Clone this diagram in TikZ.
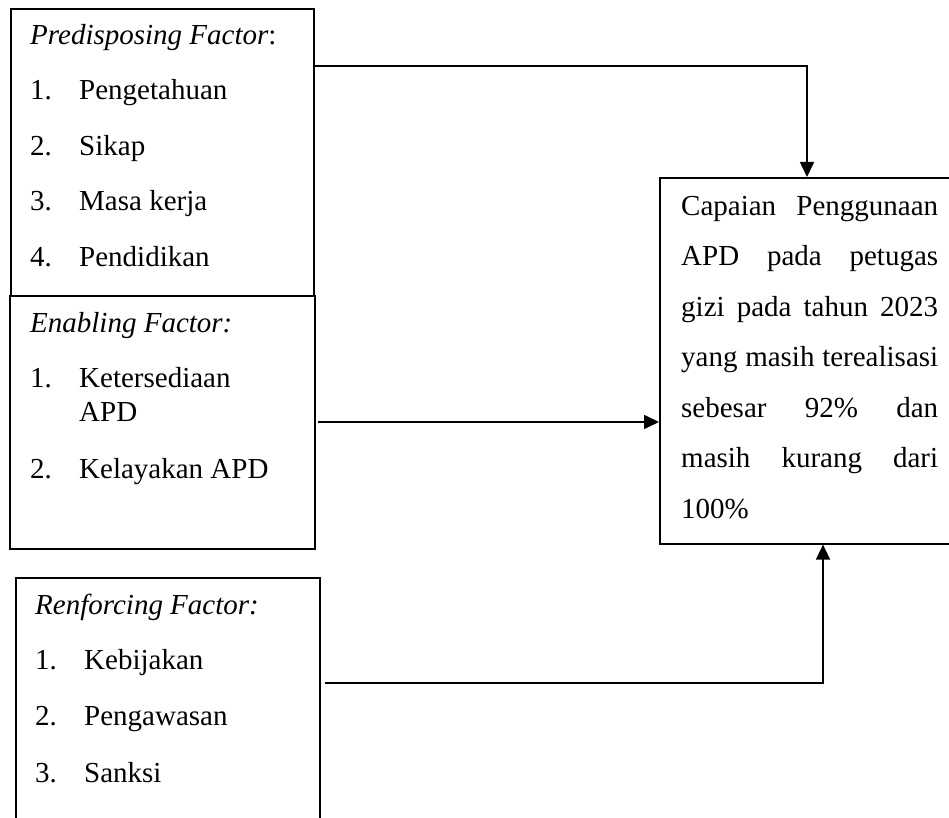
\documentclass[tikz,border=0pt]{standalone}
\usepackage{fontspec}
\setmainfont{Liberation Serif}
\usetikzlibrary{arrows.meta}
\begin{document}
\begin{tikzpicture}[x=1pt,y=-1pt,
  box/.style={draw,line width=1.6pt,inner sep=0pt,anchor=north west},
  conn/.style={line width=1.6pt},
  arr/.style={conn,-{Triangle[length=15pt,width=14pt]}},
  txt/.style={anchor=base west,inner sep=0pt,font=\fontsize{29}{55}\selectfont}]
\useasboundingbox (0,0) rectangle (949,818);
\clip (0,0) rectangle (949,818);
% boxes
\node[box,minimum width=303pt,minimum height=287pt] (b1) at (10,8) {};
\node[box,minimum width=305pt,minimum height=253pt] (b2) at (9,295) {};
\node[box,minimum width=304pt,minimum height=260pt] (b3) at (15,577) {};
\node[box,minimum width=310pt,minimum height=366pt] (rb) at (659,177) {};
% box 1 text
\node[txt] (t1) at (30,45) {\textit{Predisposing Factor}:};
\node[txt] (t1n1) at (30,100) {1.};
\node[txt] (t1i1) at (79,100) {Pengetahuan};
\node[txt] (t1n2) at (30,156) {2.};
\node[txt] (t1i2) at (79,156) {Sikap};
\node[txt] (t1n3) at (30,211) {3.};
\node[txt] (t1i3) at (79,211) {Masa kerja};
\node[txt] (t1n4) at (30,266) {4.};
\node[txt] (t1i4) at (79,266) {Pendidikan};
% box 2 text
\node[txt] (t2) at (30,332) {\textit{Enabling Factor:}};
\node[txt] (t2n1) at (30,387) {1.};
\node[txt] (t2i1) at (79,387) {Ketersediaan};
\node[txt] (t2i1b) at (79,421) {APD};
\node[txt] (t2n2) at (30,478) {2.};
\node[txt] (t2i2) at (79,478) {Kelayakan APD};
% box 3 text
\node[txt] (t3) at (35,614) {\textit{Renforcing Factor:}};
\node[txt] (t3n1) at (35,669) {1.};
\node[txt] (t3i1) at (84,669) {Kebijakan};
\node[txt] (t3n2) at (35,725) {2.};
\node[txt] (t3i2) at (84,725) {Pengawasan};
\node[txt] (t3n3) at (35,782) {3.};
\node[txt] (t3i3) at (84,782) {Sanksi};
% right box text
\node[txt] (r1) at (681,215) {\makebox[257pt][s]{Capaian Penggunaan}};
\node[txt] (r2) at (681,265.5) {\makebox[257pt][s]{APD pada petugas}};
\node[txt] (r3) at (681,316) {\makebox[257pt][s]{gizi pada tahun 2023}};
\node[txt] (r4) at (681,366.5) {\makebox[257pt][s]{yang masih terealisasi}};
\node[txt] (r5) at (681,417) {\makebox[257pt][s]{sebesar 92\% dan}};
\node[txt] (r6) at (681,467.5) {\makebox[257pt][s]{masih kurang dari}};
\node[txt] (r7) at (681,518) {100\%};
% connector coordinates
\coordinate (a1s) at (b1.east |- 0,66);
\coordinate (a1e) at (807,0 |- rb.north);
\coordinate (a2s) at (318,422);
\coordinate (a2e) at (rb.west |- a2s);
\coordinate (a3s) at (325,683);
\coordinate (a3e) at (823,0 |- rb.south);
\draw[arr] (a1s) -| (a1e);
\draw[arr] (a2s) -- (a2e);
\draw[arr] (a3s) -| (a3e);
\end{tikzpicture}
\end{document}
